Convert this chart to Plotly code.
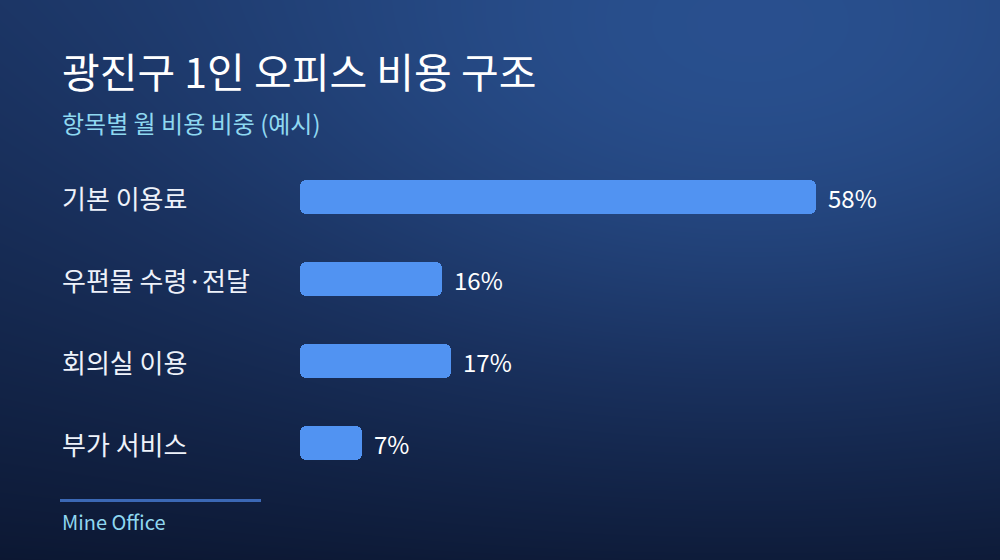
import numpy as np
import plotly.graph_objects as go

# 데이터
categories = ['기본 이용료', '우편물 수령·전달', '회의실 이용', '부가 서비스']
shares = [58, 16, 17, 7]
value_labels = ['58%', '16%', '17%', '7%']

title_text = '광진구 1인 오피스 비용 구조'
subtitle_text = '항목별 월 비용 비중 (예시)'
footer_text = 'Mine Office'

W, H = 1000, 560
KR_FONT = 'Noto Sans CJK KR, Noto Sans, sans-serif'


def background_grid():
    # 배경 그라데이션 (오른쪽 위가 밝고 아래로 갈수록 어두움)
    xs = np.linspace(0, W, 101)
    ys = np.linspace(0, H, 57)
    X, Y = np.meshgrid(xs, ys)
    v = Y / H
    t = 0.45 * (1 - v) ** 0.8 + 0.55 * np.exp(-(((X - 750) / 600) ** 2 + ((Y - 100) / 350) ** 2))
    return xs, ys, np.clip(t, 0, 1)


fig = go.Figure()

bx, by, bz = background_grid()
fig.add_trace(go.Heatmap(
    x=bx, y=by, z=bz,
    zsmooth='best',
    colorscale=[[0, '#0b1630'], [0.5, '#1a3260'], [1, '#2a5292']],
    zmin=0, zmax=1,
    showscale=False,
    hoverinfo='skip',
    xaxis='x', yaxis='y',
))

# 막대를 겹치는 두 조각으로 그려 양 끝을 모두 둥글게
bar_color = '#5193f2'
right_part = dict(base=[s * 0.3 for s in shares], x=[s * 0.7 for s in shares])
left_part = dict(base=[s * 0.7 for s in shares], x=[-s * 0.7 for s in shares])
for part in (right_part, left_part):
    fig.add_trace(go.Bar(
        y=categories,
        x=part['x'],
        base=part['base'],
        orientation='h',
        marker=dict(color=bar_color, cornerradius=6, line=dict(width=0)),
        width=0.415,
        hoverinfo='skip',
        showlegend=False,
        xaxis='x2', yaxis='y2',
    ))

annotations = [
    dict(text=title_text, x=60 / W, y=1 - 70 / H, xref='paper', yref='paper',
         xanchor='left', yanchor='middle', showarrow=False,
         font=dict(family=KR_FONT, size=41, color='#ffffff')),
    dict(text=subtitle_text, x=60 / W, y=1 - 122 / H, xref='paper', yref='paper',
         xanchor='left', yanchor='middle', showarrow=False,
         font=dict(family=KR_FONT, size=24, color='#8fd8f0')),
    dict(text=footer_text, x=60 / W, y=1 - 521 / H, xref='paper', yref='paper',
         xanchor='left', yanchor='middle', showarrow=False,
         font=dict(family=KR_FONT, size=20, color='#8fd8f0')),
]

# 항목 이름과 값 라벨
for cat, val, lab in zip(categories, shares, value_labels):
    annotations.append(dict(
        text=cat, x=60 / W, y=cat, xref='paper', yref='y2',
        xanchor='left', yanchor='middle', showarrow=False,
        font=dict(family=KR_FONT, size=26, color='#eef2fa'),
    ))
    annotations.append(dict(
        text=lab, x=val, y=cat, xref='x2', yref='y2',
        xanchor='left', yanchor='middle', showarrow=False, xshift=10,
        font=dict(family=KR_FONT, size=24, color='#ffffff'),
    ))

fig.update_layout(
    width=W, height=H,
    margin=dict(l=0, r=0, t=0, b=0),
    paper_bgcolor='#0b1630',
    plot_bgcolor='rgba(0,0,0,0)',
    barmode='overlay',
    bargap=0,
    showlegend=False,
    xaxis=dict(domain=[0, 1], range=[0, W], visible=False, fixedrange=True),
    yaxis=dict(domain=[0, 1], range=[H, 0], visible=False, fixedrange=True),
    xaxis2=dict(domain=[0.3, 0.923], range=[0, 70], visible=False, anchor='y2'),
    yaxis2=dict(domain=[76 / H, 404 / H], range=[3.5, -0.5], visible=False, anchor='x2',
                type='category', categoryorder='array', categoryarray=categories),
    annotations=annotations,
    shapes=[dict(type='line', xref='paper', yref='paper',
                 x0=60 / W, x1=261 / W, y0=1 - 500.5 / H, y1=1 - 500.5 / H,
                 line=dict(color='#3b68b5', width=3))],
)

fig.write_html('out.html', config={'displayModeBar': False},
               post_script='document.body.style.margin="0";')
